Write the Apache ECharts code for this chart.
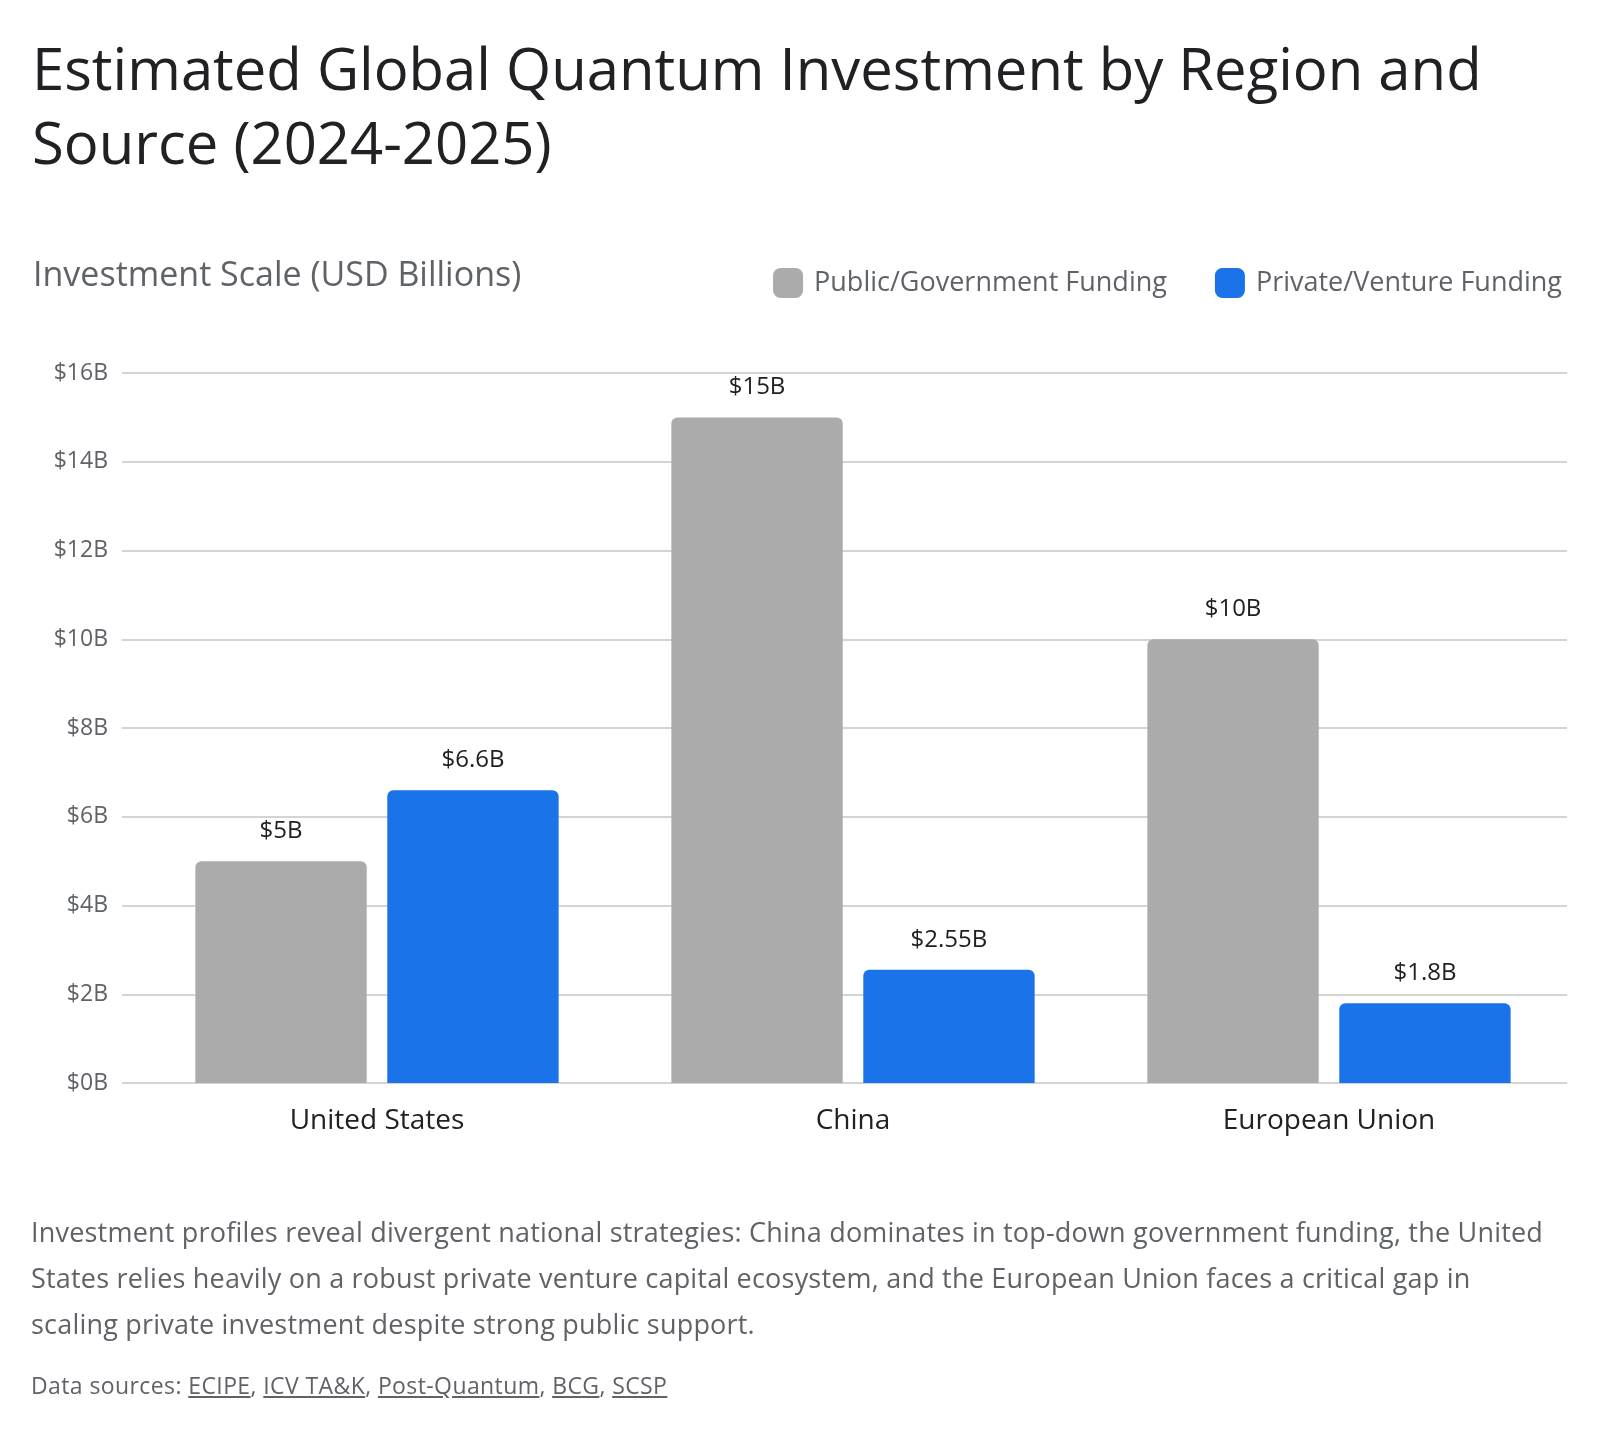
<!DOCTYPE html>
<html lang="en">
<head>
    <meta charset="UTF-8">
    <title>Estimated Global Quantum Investment</title>
    <script src="https://cdn.jsdelivr.net/npm/echarts@6.0.0/dist/echarts.min.js"></script>
    <style type="text/css">
        body {
            margin: 0;
            background: #ffffff;
        }
        #main {
            width: 1600px;
            height: 1434px;
            position: relative;
        }
        .note {
            position: absolute;
            left: 31px;
            top: 1209px;
            font-family: "Open Sans", sans-serif;
            font-size: 27px;
            letter-spacing: 0.2px;
            line-height: 46px;
            color: #5f6368;
            white-space: nowrap;
        }
        .sources {
            position: absolute;
            left: 31px;
            top: 1370px;
            font-family: "Open Sans", sans-serif;
            font-size: 23px;
            letter-spacing: 0.4px;
            line-height: 30px;
            color: #5f6368;
        }
        .sources a {
            color: #5f6368;
            text-decoration: underline;
        }
    </style>
</head>
<body>
    <div id="main"></div>
    <div class="note">
        Investment profiles reveal divergent national strategies: China dominates in top-down government funding, the United<br>
        States relies heavily on a robust private venture capital ecosystem, and the European Union faces a critical gap in<br>
        scaling private investment despite strong public support.
    </div>
    <div class="sources">
        Data sources: <a>ECIPE</a>, <a>ICV TA&amp;K</a>, <a>Post-Quantum</a>, <a>BCG</a>, <a>SCSP</a>
    </div>
    <script>
        // data
        var regions = ['United States', 'China', 'European Union'];
        var publicFunding = [5, 15, 10];
        var privateFunding = [6.6, 2.55, 1.8];
        var seriesNames = ['Public/Government Funding', 'Private/Venture Funding'];

        var font = '"Open Sans", sans-serif';
        var chart = echarts.init(document.getElementById('main'));

        var barLabel = {
            show: true,
            position: 'top',
            distance: 18,
            fontFamily: font,
            fontSize: 24,
            color: '#202124',
            formatter: function (p) { return '$' + p.value + 'B'; }
        };

        var option = {
            animation: false,
            title: [
                {
                    text: 'Estimated Global Quantum Investment by Region and\nSource (2024-2025)',
                    left: 27,
                    top: 31,
                    textStyle: {
                        fontFamily: font,
                        fontSize: 58,
                        fontWeight: 'normal',
                        color: '#202124',
                        lineHeight: 74
                    }
                },
                {
                    text: 'Investment Scale (USD Billions)',
                    left: 28,
                    top: 254,
                    textStyle: {
                        fontFamily: font,
                        fontSize: 34,
                        fontWeight: 'normal',
                        color: '#5f6368'
                    }
                }
            ],
            legend: {
                right: 33,
                top: 263,
                itemWidth: 30,
                itemHeight: 30,
                itemGap: 48,
                icon: 'roundRect',
                textStyle: {
                    fontFamily: font,
                    fontSize: 27,
                    color: '#5f6368',
                    padding: [0, 0, 0, 6]
                },
                data: seriesNames
            },
            grid: [
                { left: 122, right: 33, top: 373, bottom: 351 },
                { left: 139, right: 33, top: 373, bottom: 351 }
            ],
            xAxis: [
                {
                    type: 'category',
                    gridIndex: 0,
                    data: regions,
                    show: false
                },
                {
                    type: 'category',
                    gridIndex: 1,
                    data: regions,
                    axisLine: { show: false },
                    axisTick: { show: false },
                    axisLabel: {
                        margin: 24,
                        fontFamily: font,
                        fontSize: 28,
                        color: '#202124'
                    }
                }
            ],
            yAxis: [
                {
                    type: 'value',
                    gridIndex: 0,
                    min: 0,
                    max: 16,
                    interval: 2,
                    axisLine: { show: false },
                    axisTick: { show: false },
                    axisLabel: {
                        margin: 14,
                        fontFamily: font,
                        fontSize: 23,
                        color: '#5f6368',
                        formatter: '${value}B'
                    },
                    splitLine: { lineStyle: { color: '#c6c6c6', width: 1.5 } }
                },
                {
                    type: 'value',
                    gridIndex: 1,
                    min: 0,
                    max: 16,
                    interval: 2,
                    show: false,
                    splitLine: { show: false }
                }
            ],
            series: [
                {
                    name: seriesNames[0],
                    type: 'bar',
                    xAxisIndex: 1,
                    yAxisIndex: 1,
                    data: publicFunding,
                    barWidth: '36%',
                    barGap: '12%',
                    itemStyle: { color: '#ababab', borderRadius: [6, 6, 0, 0] },
                    label: barLabel
                },
                {
                    name: seriesNames[1],
                    type: 'bar',
                    xAxisIndex: 1,
                    yAxisIndex: 1,
                    data: privateFunding,
                    barWidth: '36%',
                    barGap: '12%',
                    itemStyle: { color: '#1a73e8', borderRadius: [6, 6, 0, 0] },
                    label: barLabel
                }
            ]
        };

        chart.setOption(option);
    </script>
</body>
</html>
